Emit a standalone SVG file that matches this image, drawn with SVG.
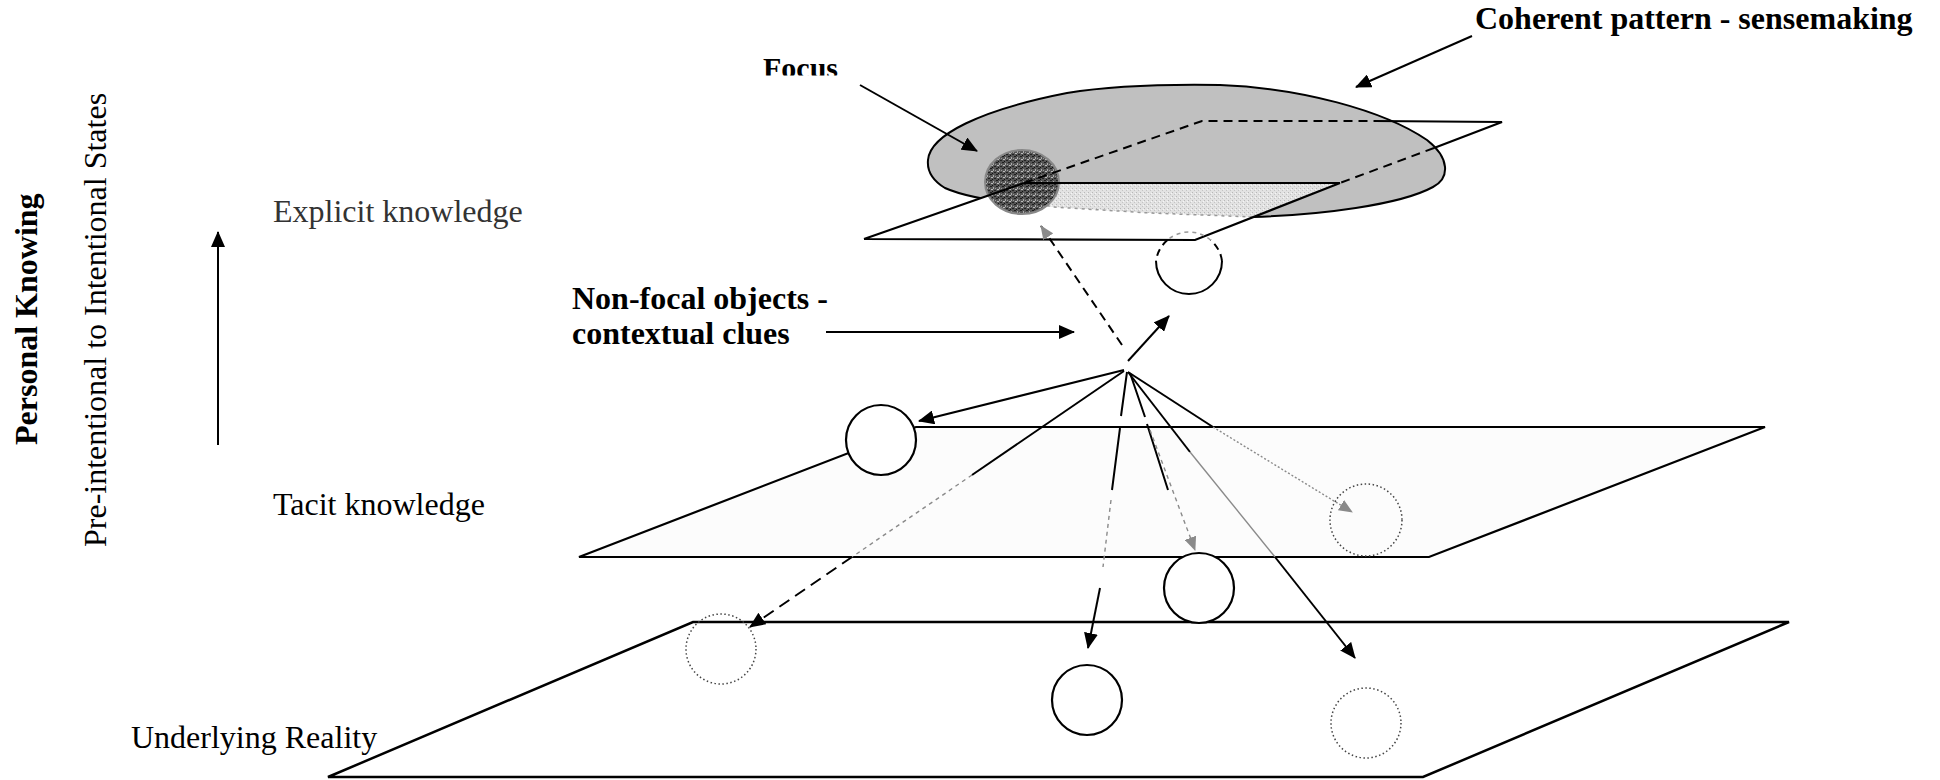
<svg xmlns="http://www.w3.org/2000/svg" width="1940" height="780" viewBox="0 0 1940 780">
<defs>
<style>
.t{font-family:"Liberation Serif","Times New Roman",serif;font-size:32px;fill:#000}
.b{font-weight:bold}
.edge{fill:none;stroke:#000;stroke-width:2.2}
.dash{fill:none;stroke:#000;stroke-width:2;stroke-dasharray:9 6}
.ln{fill:none;stroke:#000;stroke-width:2}
.gl{fill:none;stroke:#8a8a8a;stroke-width:1.4;stroke-dasharray:4 4}
.gs{fill:none;stroke:#8a8a8a;stroke-width:1.4}
.dot{fill:none;stroke:#444;stroke-width:1.5;stroke-dasharray:1.5 2.5}
.circ{fill:#fff;stroke:#000;stroke-width:2.2}
</style>
<pattern id="dark" width="6" height="6" patternUnits="userSpaceOnUse">
<rect width="6" height="6" fill="#555"/>
<rect x="0" y="0" width="2" height="1" fill="#1e1e1e"/>
<rect x="3" y="1" width="1" height="2" fill="#aaa"/>
<rect x="1" y="3" width="2" height="1" fill="#bbb"/>
<rect x="4" y="4" width="2" height="1" fill="#222"/>
<rect x="5" y="2" width="1" height="1" fill="#999"/>
<rect x="2" y="5" width="1" height="1" fill="#111"/>
</pattern>
<pattern id="light" width="4" height="4" patternUnits="userSpaceOnUse">
<rect width="4" height="4" fill="#e2e2e2"/>
<rect x="0" y="0" width="1" height="1" fill="#b8b8b8"/>
<rect x="2" y="2" width="1" height="1" fill="#c4c4c4"/>
<rect x="3" y="1" width="1" height="1" fill="#f6f6f6"/>
</pattern>
<marker id="ah" viewBox="0 0 16 14" refX="15" refY="7" markerWidth="16" markerHeight="14" markerUnits="userSpaceOnUse" orient="auto">
<path d="M0,0 L16,7 L0,14 z" fill="#000"/>
</marker>
<marker id="ahg" viewBox="0 0 14 12" refX="13" refY="6" markerWidth="14" markerHeight="12" markerUnits="userSpaceOnUse" orient="auto">
<path d="M0,0 L14,6 L0,12 z" fill="#8a8a8a"/>
</marker>
<clipPath id="focusClip"><rect x="740" y="40" width="140" height="35.5"/></clipPath>
</defs>
<rect width="1940" height="780" fill="#fff"/>

<g id="plane-reality">
<polygon points="693,622 1789,622 1423,777 328,777" fill="#fff" stroke="#000" stroke-width="2.5"/>
</g>
<g id="plane-tacit">
<polygon points="916,427 1765,427 1429,557 579,557" fill="#fcfcfc" stroke="#000" stroke-width="2.2"/>
</g>

<g id="coherent-pattern">
<path d="M928,160 C930,135 980,110 1067,93 C1110,86 1160,84 1220,85 C1300,88 1383,110 1427,140 C1450,158 1450,178 1433,187 C1400,205 1320,215 1253,217 L1053,207 C1000,203 965,197 945,188 C932,180 927,170 928,160 Z" fill="#c0c0c0" stroke="#000" stroke-width="2"/>
<polygon points="864,239 1024,183 1340,183 1195,240" fill="#fff"/>
<polygon points="1010,183 1340,183 1253,217 1150,213 1053,207 1030,202" fill="url(#light)"/>
<path d="M1040,204 L1053,207 L1150,213 L1253,217" fill="none" stroke="#999" stroke-width="1.5" stroke-dasharray="3 4"/>
</g>

<g id="focus">
<ellipse cx="1022" cy="182" rx="37" ry="32" fill="url(#dark)" stroke="#888" stroke-width="2"/>
</g>

<g id="plane-explicit">
<path class="edge" d="M864,239 L1024,183 M1024,183 L1340,183 M1375,121 L1502,122 L1434,148 M1340,183 L1195,240 L864,239"/>
<path class="dash" d="M1024,183 L1202,121 L1375,121 M1434,148 L1340,183"/>
</g>

<g id="explicit-object">
<path d="M1156,261 A33,33 0 0 0 1222,261" fill="none" stroke="#000" stroke-width="2"/>
<path d="M1167.5,240 A33,33 0 0 0 1156,261 M1222,261 A33,33 0 0 0 1210.5,240" fill="none" stroke="#000" stroke-width="2" stroke-dasharray="7 5"/>
<path d="M1210.5,240 A33,33 0 0 0 1167.5,240" fill="none" stroke="#999" stroke-width="1.5" stroke-dasharray="4 4"/>
</g>

<g id="tacit-objects">
<circle cx="881" cy="440" r="35" class="circ"/>
<circle cx="1199" cy="588" r="35" class="circ"/>
<circle cx="1366" cy="520" r="36" class="dot"/>
</g>

<g id="reality-objects">
<circle cx="721" cy="649" r="35" class="dot"/>
<circle cx="1087" cy="700" r="35" class="circ"/>
<circle cx="1366" cy="723" r="35" class="dot"/>
</g>

<g id="connectors">
<line x1="1472" y1="36" x2="1356" y2="87" class="ln" marker-end="url(#ah)"/>
<line x1="860" y1="85" x2="977" y2="151" class="ln" marker-end="url(#ah)"/>
<line x1="826" y1="332" x2="1074" y2="332" class="ln" marker-end="url(#ah)"/>
<line x1="218" y1="445" x2="218" y2="232" class="ln" marker-end="url(#ah)"/>
<line x1="1124" y1="370" x2="919" y2="421" class="ln" marker-end="url(#ah)"/>
<line x1="1128" y1="361" x2="1169" y2="316" class="ln" marker-end="url(#ah)"/>
<line x1="1122" y1="345" x2="1041" y2="226" class="dash" marker-end="url(#ahg)"/>
<path class="ln" d="M1127,372 L1121,416 M1120,428 L1112,490"/>
<path class="gl" d="M1111,500 L1103,567"/>
<line x1="1100" y1="588" x2="1088" y2="648" class="ln" marker-end="url(#ah)"/>
<path class="ln" d="M1130,373 L1145,417 M1147,424 L1168,490"/>
<line x1="1150" y1="430" x2="1195" y2="550" class="gl" marker-end="url(#ahg)"/>
<line x1="1128" y1="372" x2="1213" y2="427" class="ln"/>
<line x1="1213" y1="427" x2="1352" y2="512" class="gs" stroke-dasharray="2 2" marker-end="url(#ahg)"/>
<path class="ln" d="M1128,372 L1190,452"/>
<path class="gs" d="M1190,452 L1275,557"/>
<line x1="1275" y1="557" x2="1355" y2="658" class="ln" marker-end="url(#ah)"/>
<line x1="1124" y1="371" x2="972" y2="475" class="ln"/>
<line x1="972" y1="475" x2="852" y2="557" class="gl"/>
<line x1="852" y1="557" x2="750" y2="627" class="ln" stroke-dasharray="12 7" marker-end="url(#ah)"/>
</g>

<g id="labels">
<text class="t b" x="1475" y="29">Coherent pattern - sensemaking</text>
<text class="t b" x="763" y="78" style="font-size:30px" clip-path="url(#focusClip)">Focus</text>
<text class="t b" x="572" y="309">Non-focal objects -</text>
<text class="t b" x="572" y="344">contextual clues</text>
<text class="t" x="273" y="222" style="fill:#333">Explicit knowledge</text>
<text class="t" x="273" y="515">Tacit knowledge</text>
<text class="t" x="131" y="748">Underlying Reality</text>
<text class="t b" transform="translate(37,445) rotate(-90)">Personal Knowing</text>
<text class="t" transform="translate(106,547) rotate(-90)">Pre-intentional to Intentional States</text>
</g>
</svg>
